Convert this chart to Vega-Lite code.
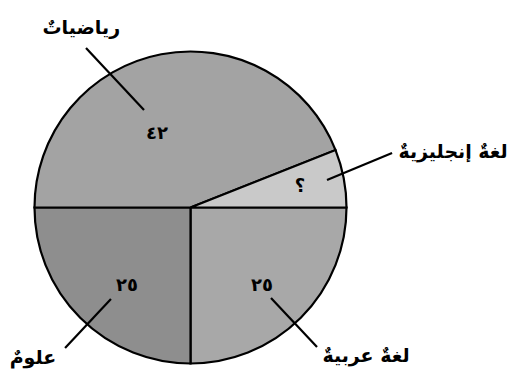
{
  "$schema": "https://vega.github.io/schema/vega-lite/v6.json",
  "width": 312,
  "height": 312,
  "autosize": {"type": "none"},
  "padding": {"left": 34.5, "top": 51.5, "right": 164.5, "bottom": 16.5},
  "background": "white",
  "config": {"view": {"stroke": null}},
  "datasets": {
    "slices": [
      {"subject": "لغةٌ عربيةٌ", "share": 25, "seq": 1},
      {"subject": "علومٌ", "share": 25, "seq": 2},
      {"subject": "رياضياتٌ", "share": 44, "seq": 3},
      {"subject": "لغةٌ إنجليزيةٌ", "share": 6, "seq": 4}
    ],
    "callouts": [
      {"subject": "رياضياتٌ", "value": "٤٢", "lx": -0.70, "ly": 1.15, "ax": -0.670, "ay": 1.022, "bx": -0.298, "by": 0.625, "nx": -0.215, "ny": 0.471},
      {"subject": "لغةٌ إنجليزيةٌ", "value": "؟", "lx": 1.683, "ly": 0.356, "ax": 1.292, "ay": 0.349, "bx": 0.875, "by": 0.176, "nx": 0.702, "ny": 0.131},
      {"subject": "لغةٌ عربيةٌ", "value": "٢٥", "lx": 1.125, "ly": -0.952, "ax": 0.811, "ay": -0.894, "bx": 0.516, "by": -0.580, "nx": 0.458, "ny": -0.503},
      {"subject": "علومٌ", "value": "٢٥", "lx": -1.010, "ly": -0.965, "ax": -0.804, "ay": -0.901, "bx": -0.510, "by": -0.587, "nx": -0.407, "ny": -0.503}
    ]
  },
  "layer": [
    {
      "data": {"name": "slices"},
      "mark": {"type": "arc", "outerRadius": 156, "stroke": "black", "strokeWidth": 2.2},
      "encoding": {
        "theta": {"field": "share", "type": "quantitative", "stack": true, "scale": {"range": [1.5708, 7.854]}},
        "order": {"field": "seq", "type": "quantitative"},
        "color": {
          "field": "subject",
          "type": "nominal",
          "legend": null,
          "scale": {
            "domain": ["لغةٌ عربيةٌ", "علومٌ", "رياضياتٌ", "لغةٌ إنجليزيةٌ"],
            "range": ["#a8a8a8", "#8e8e8e", "#a3a3a3", "#c9c9c9"]
          }
        }
      }
    },
    {
      "data": {"name": "callouts"},
      "mark": {"type": "rule", "color": "black", "strokeWidth": 2.2},
      "encoding": {
        "x": {"field": "ax", "type": "quantitative", "axis": null, "scale": {"domain": [-1, 1], "nice": false, "zero": false}},
        "y": {"field": "ay", "type": "quantitative", "axis": null, "scale": {"domain": [-1, 1], "nice": false, "zero": false}},
        "x2": {"field": "bx"},
        "y2": {"field": "by"}
      }
    },
    {
      "data": {"name": "callouts"},
      "mark": {"type": "text", "font": "DejaVu Sans", "fontSize": 19, "fontWeight": "bold", "align": "center", "baseline": "middle", "color": "black"},
      "encoding": {
        "x": {"field": "lx", "type": "quantitative", "axis": null, "scale": {"domain": [-1, 1], "nice": false, "zero": false}},
        "y": {"field": "ly", "type": "quantitative", "axis": null, "scale": {"domain": [-1, 1], "nice": false, "zero": false}},
        "text": {"field": "subject"}
      }
    },
    {
      "data": {"name": "callouts"},
      "mark": {"type": "text", "font": "DejaVu Sans", "fontSize": 18, "fontWeight": "bold", "align": "center", "baseline": "middle", "color": "black"},
      "encoding": {
        "x": {"field": "nx", "type": "quantitative", "axis": null, "scale": {"domain": [-1, 1], "nice": false, "zero": false}},
        "y": {"field": "ny", "type": "quantitative", "axis": null, "scale": {"domain": [-1, 1], "nice": false, "zero": false}},
        "text": {"field": "value"}
      }
    }
  ]
}
